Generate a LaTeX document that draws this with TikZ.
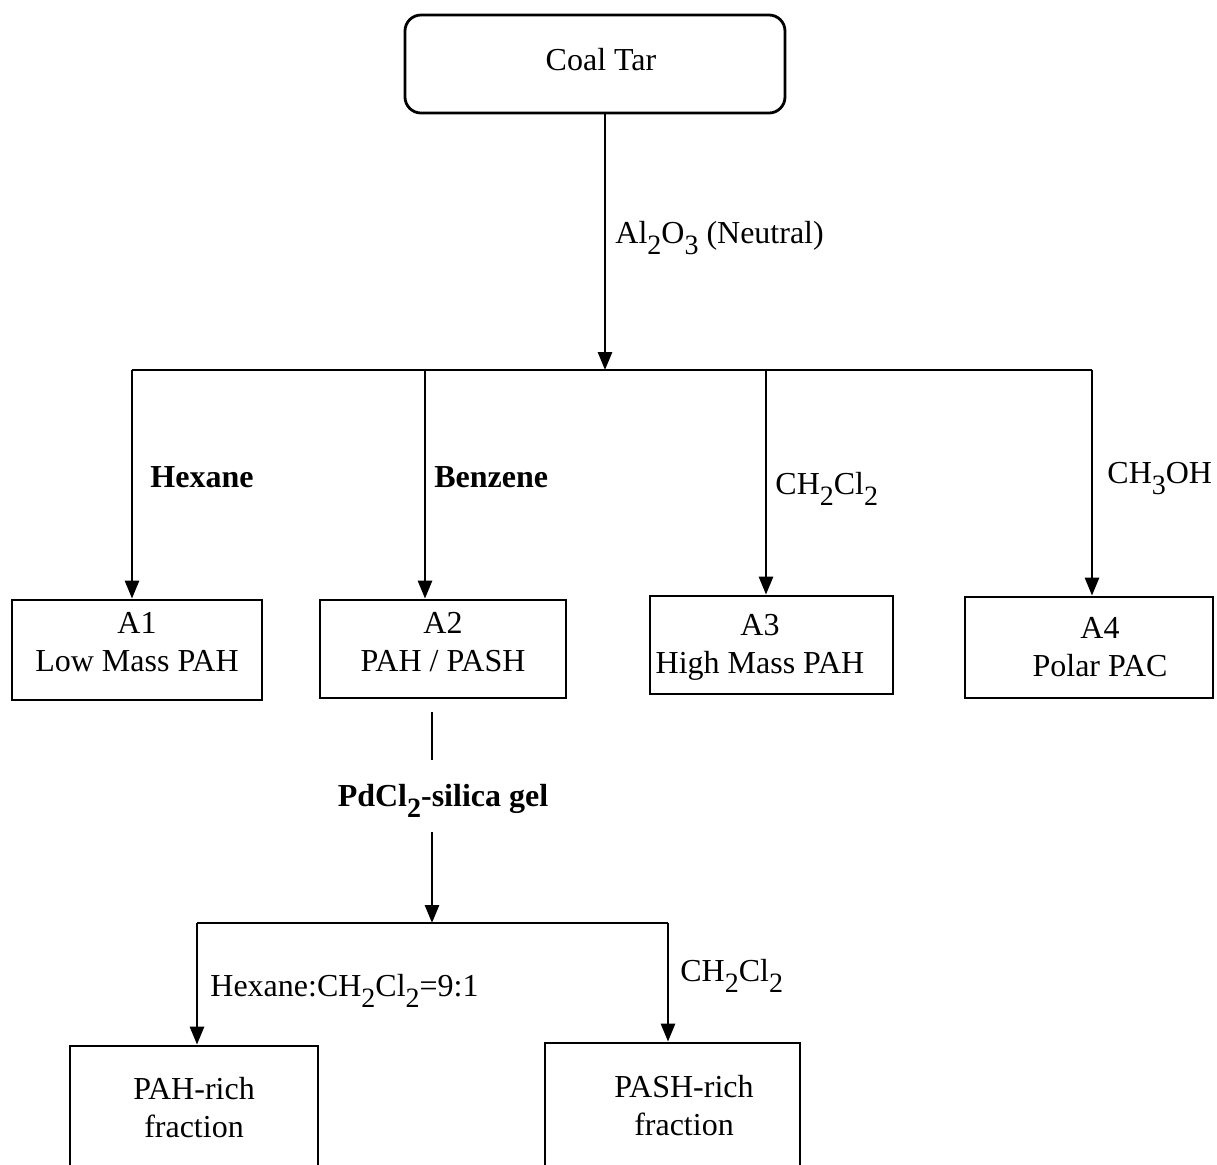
\documentclass[tikz,border=0pt]{standalone}
\usepackage{fontspec}
\setmainfont{Liberation Serif}
\usetikzlibrary{arrows.meta}
\newcommand\lsub[1]{\raisebox{-0.75ex}{\fontsize{14}{14}\selectfont #1}}
\begin{document}
\begin{tikzpicture}[x=0.5pt,y=-0.5pt,
  every node/.style={font=\fontsize{16}{19}\selectfont},
  box/.style={draw, line width=1.4pt, inner sep=0pt},
  txt/.style={align=center, inner sep=0pt},
  conn/.style={line width=1.4pt},
  arr/.style={conn, -{Triangle[length=9pt,width=7pt]}},
  lbl/.style={anchor=base west, inner sep=0pt}]
\useasboundingbox (0,0) rectangle (1217,1164);
\clip (0,0) rectangle (1217,1164);
% boxes
\node[box, rounded corners=8pt, minimum width=190pt, minimum height=49pt] (ct) at (595,64) {};
\node[box, minimum width=125pt, minimum height=50pt] (a1) at (137,650) {};
\node[box, minimum width=123pt, minimum height=49pt] (a2) at (443,649) {};
\node[box, minimum width=121.5pt, minimum height=49pt] (a3) at (771.5,645) {};
\node[box, minimum width=124pt, minimum height=50.5pt] (a4) at (1089,647.5) {};
\node[box, minimum width=124pt, minimum height=61pt] (f1) at (194,1107) {};
\node[box, minimum width=127.5pt, minimum height=62.5pt] (f2) at (672.5,1105.5) {};
% box texts
\node[anchor=base, inner sep=0pt] (cttxt) at (601,70) {Coal Tar};
\node[txt] (a1txt) at (137,642) {A1\\Low Mass PAH};
\node[txt] (a2txt) at (443,642) {A2\\PAH / PASH};
\node[txt] (a3txt) at (760,647) {A3\\High Mass PAH};
\node[txt] (a4txt) at (1100,647) {A4\\Polar PAC};
\node[txt] (f1txt) at (194,1108) {PAH-rich\\fraction};
\node[txt] (f2txt) at (684,1106) {PASH-rich\\fraction};
% coordinates
\coordinate (j0) at (605,370);
\coordinate (l1) at (132,370);
\coordinate (l2) at (425,370);
\coordinate (l3) at (766,370);
\coordinate (l4) at (1092,370);
\coordinate (p0) at (432,712);
\coordinate (p1) at (432,760);
\coordinate (p2) at (432,832);
\coordinate (j1) at (432,923);
\coordinate (m1) at (197,923);
\coordinate (m2) at (668,923);
% connectors
\draw[arr] (ct.south -| j0) -- (j0);
\draw[conn] (l1) -- (l4);
\draw[arr] (l1) -- (a1.north -| l1);
\draw[arr] (l2) -- (a2.north -| l2);
\draw[arr] (l3) -- (a3.north -| l3);
\draw[arr] (l4) -- (a4.north -| l4);
\draw[conn] (p0) -- (p1);
\draw[arr] (p2) -- (j1);
\draw[conn] (m1) -- (m2);
\draw[arr] (m1) -- (f1.north -| m1);
\draw[arr] (m2) -- (f2.north -| m2);
% labels
\node[lbl] (lal) at (615,243) {Al\lsub{2}O\lsub{3} (Neutral)};
\node[lbl] (lhex) at (150,487) {\bfseries Hexane};
\node[lbl] (lben) at (434,487) {\bfseries Benzene};
\node[lbl] (ldcm) at (775,494) {CH\lsub{2}Cl\lsub{2}};
\node[lbl] (lmeoh) at (1107,483) {CH\lsub{3}OH};
\node[anchor=base, inner sep=0pt] (lpd) at (443,806) {\bfseries PdCl\lsub{2}-silica gel};
\node[lbl] (lmix) at (210,996) {Hexane:CH\lsub{2}Cl\lsub{2}=9:1};
\node[lbl] (ldcm2) at (680,981) {CH\lsub{2}Cl\lsub{2}};
\end{tikzpicture}
\end{document}
